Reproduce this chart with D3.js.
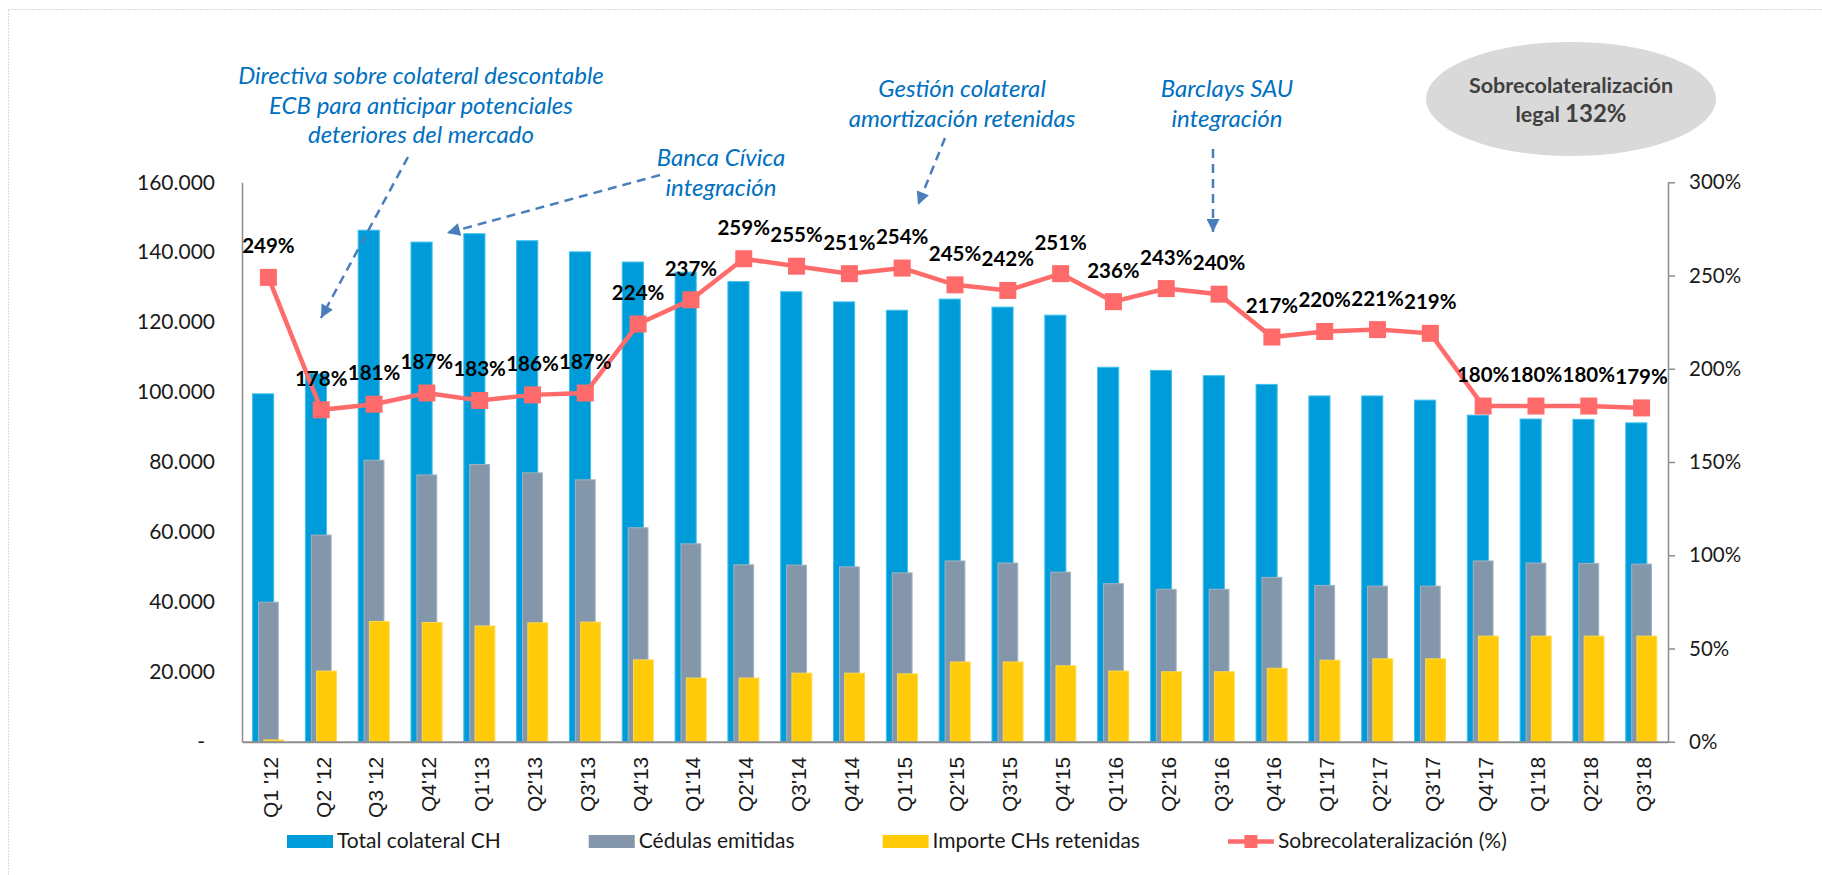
<!DOCTYPE html>
<html lang="es">
<head>
<meta charset="UTF-8">
<title>Sobrecolateralización</title>
<script src="https://d3js.org/d3.v7.min.js"></script>
<style>
  body { margin: 0; background: #fff; }
  svg text { font-family: Lato, "Open Sans", sans-serif; }
</style>
</head>
<body>
<svg id="chart" width="1822" height="875"></svg>
<script>
// data
const quarters = ["Q1 '12", "Q2 '12", "Q3 '12", "Q4'12", "Q1'13", "Q2'13", "Q3'13", "Q4'13",
    "Q1'14", "Q2'14", "Q3'14", "Q4'14", "Q1'15", "Q2'15", "Q3'15", "Q4'15", "Q1'16", "Q2'16",
    "Q3'16", "Q4'16", "Q1'17", "Q2'17", "Q3'17", "Q4'17", "Q1'18", "Q2'18", "Q3'18"];
const totalColateral = [99500, 105200, 146300, 142900, 145300, 143300, 140100, 137200, 134300,
    131600, 128700, 125800, 123400, 126600, 124300, 122000, 107100, 106200, 104700, 102200,
    98900, 98900, 97700, 93400, 92300, 92200, 91200];
const cedulasEmitidas = [39900, 59100, 80500, 76300, 79300, 76900, 74900, 61200, 56600, 50600,
    50500, 50000, 48300, 51700, 51100, 48500, 45200, 43600, 43600, 47000, 44700, 44500, 44500,
    51700, 51100, 51000, 50800];
const importeRetenidas = [500, 20200, 34400, 34100, 33100, 34000, 34200, 23400, 18200, 18200,
    19600, 19600, 19400, 22800, 22800, 21700, 20200, 20000, 20000, 21000, 23300, 23700, 23700,
    30200, 30200, 30200, 30200];
const sobrecolateral = [249, 178, 181, 187, 183, 186, 187, 224, 237, 259, 255, 251, 254, 245, 242,
    251, 236, 243, 240, 217, 220, 221, 219, 180, 180, 180, 179];

const leftTicks = [0, 20000, 40000, 60000, 80000, 100000, 120000, 140000, 160000];
const rightTicks = [0, 50, 100, 150, 200, 250, 300];

const seriesNames = ["Total colateral CH", "Cédulas emitidas", "Importe CHs retenidas", "Sobrecolateralización (%)"];

const blue = "#009cda", gray = "#8497aa", yellow = "#ffca08", red = "#ff6b6b", noteBlue = "#0070c0";

const svg = d3.select("#chart");
const plotLeft = 242, plotRight = 1668, plotTop = 182.3, plotBottom = 741.7;

// dotted frame
svg.append("rect")
    .attr("x", 8.5).attr("y", 9.5).attr("width", 1840).attr("height", 900)
    .attr("fill", "none").attr("stroke", "#a9b5c5").attr("stroke-dasharray", "1,2");

const x = d3.scaleBand().domain(quarters).range([plotLeft, plotRight]).padding(0);
const y = d3.scaleLinear().domain([0, 160000]).range([plotBottom, plotTop]);
const y2 = d3.scaleLinear().domain([0, 300]).range([plotBottom, plotTop]);
const bw = x.bandwidth();

// bars: three overlapped series, shifted a little inside each band
function drawBars(values, fill, stroke, shift, width) {
    svg.append("g").selectAll("rect")
        .data(values)
        .join("rect")
        .attr("x", (d, i) => x(quarters[i]) + bw / 2 + shift * bw - width * bw / 2)
        .attr("y", d => y(d))
        .attr("width", width * bw)
        .attr("height", d => plotBottom - y(d))
        .attr("fill", fill)
        .attr("stroke", stroke)
        .attr("stroke-width", 1);
}
drawBars(totalColateral, blue, "#40c0ee", -0.1, 0.4);
drawBars(cedulasEmitidas, gray, "#a3b2c0", 0.0, 0.375);
drawBars(importeRetenidas, yellow, "#ffd94a", 0.1, 0.375);

// left axis
const gLeft = svg.append("g")
    .attr("transform", `translate(${plotLeft},0)`)
    .call(d3.axisLeft(y).tickValues(leftTicks).tickSize(0).tickPadding(27)
        .tickFormat(d => d === 0 ? "-" : d3.format(",")(d).replace(/,/g, ".")));
gLeft.select(".domain").attr("stroke", "#8c8c8c").attr("stroke-width", 1.5);
gLeft.selectAll("text").attr("font-size", 21).attr("fill", "#1a1a1a")
    .style("font-family", "Lato, sans-serif");
gLeft.selectAll("text").filter(d => d === 0).attr("dx", -10);

// right axis
const gRight = svg.append("g")
    .attr("transform", `translate(${plotRight},0)`)
    .call(d3.axisRight(y2).tickValues(rightTicks).tickSizeInner(7).tickSizeOuter(0).tickPadding(14)
        .tickFormat(d => d + "%"));
gRight.select(".domain").attr("stroke", "#8c8c8c").attr("stroke-width", 1.5);
gRight.selectAll("line").attr("stroke", "#8c8c8c").attr("stroke-width", 1.5);
gRight.selectAll("text").attr("font-size", 20.5).attr("fill", "#1a1a1a")
    .style("font-family", "Lato, sans-serif");

// bottom axis
const gBottom = svg.append("g")
    .attr("transform", `translate(0,${plotBottom})`)
    .call(d3.axisBottom(x).tickSize(0).tickSizeOuter(0));
gBottom.select(".domain").attr("stroke", "#8c8c8c").attr("stroke-width", 2);
gBottom.selectAll("text")
    .attr("transform", "rotate(-90)")
    .attr("text-anchor", "end")
    .attr("x", -15).attr("y", 0).attr("dy", "0.45em")
    .attr("font-size", 21).attr("fill", "#1a1a1a")
    .style("font-family", "'Liberation Sans', Arial, sans-serif");

// line series
const cx = (d, i) => x(quarters[i]) + bw / 2;
svg.append("path")
    .datum(sobrecolateral)
    .attr("fill", "none").attr("stroke", red).attr("stroke-width", 4.5)
    .attr("d", d3.line().x(cx).y(d => y2(d)));
svg.append("g").selectAll("rect")
    .data(sobrecolateral)
    .join("rect")
    .attr("x", (d, i) => cx(d, i) - 8.5)
    .attr("y", d => y2(d) - 8.5)
    .attr("width", 17).attr("height", 17)
    .attr("fill", red);
svg.append("g").selectAll("text")
    .data(sobrecolateral)
    .join("text")
    .attr("x", cx)
    .attr("y", d => y2(d) - 24)
    .attr("text-anchor", "middle")
    .attr("font-size", 20.5).attr("font-weight", "bold").attr("fill", "#000")
    .text(d => d + "%");

// annotations
svg.append("defs").append("marker")
    .attr("id", "arrow").attr("viewBox", "0 0 10 10")
    .attr("refX", 10).attr("refY", 5)
    .attr("markerUnits", "userSpaceOnUse")
    .attr("markerWidth", 15).attr("markerHeight", 13)
    .attr("orient", "auto")
    .append("path").attr("d", "M0,0 L10,5 L0,10 Z").attr("fill", "#4a7ebb");

const notes = [
    { lines: ["Directiva sobre colateral descontable", "ECB para anticipar potenciales", "deteriores del mercado"], cx: 421, y0: 84, from: [408, 157], to: [321, 318] },
    { lines: ["Banca Cívica", "integración"], cx: 721, y0: 166, from: [660, 175], to: [447, 233] },
    { lines: ["Gestión colateral", "amortización retenidas"], cx: 962, y0: 97, from: [945, 138], to: [918, 205] },
    { lines: ["Barclays SAU", "integración"], cx: 1227, y0: 97, from: [1213, 149], to: [1213, 232] }
];
notes.forEach(n => {
    const t = svg.append("text")
        .attr("text-anchor", "middle")
        .attr("font-size", 24).attr("font-style", "italic").attr("fill", noteBlue);
    n.lines.forEach((l, i) => t.append("tspan").attr("x", n.cx).attr("y", n.y0 + i * 29.5).text(l));
    svg.append("line")
        .attr("x1", n.from[0]).attr("y1", n.from[1])
        .attr("x2", n.to[0]).attr("y2", n.to[1])
        .attr("stroke", "#4a7ebb").attr("stroke-width", 2.5)
        .attr("stroke-dasharray", "9,6")
        .attr("marker-end", "url(#arrow)");
});

// legal over-collateralisation bubble
svg.append("ellipse")
    .attr("cx", 1571).attr("cy", 99).attr("rx", 145).attr("ry", 57)
    .attr("fill", "#d9d9d9");
svg.append("text")
    .attr("x", 1571).attr("y", 93).attr("text-anchor", "middle")
    .attr("font-size", 21.5).attr("font-weight", "bold").attr("fill", "#404040")
    .text("Sobrecolateralización");
const legal = svg.append("text")
    .attr("x", 1571).attr("y", 122).attr("text-anchor", "middle")
    .attr("font-weight", "bold").attr("fill", "#404040");
legal.append("tspan").attr("font-size", 21.5).text("legal ");
legal.append("tspan").attr("font-size", 24).text("132%");

// legend
const legend = svg.append("g");
let lx = 287;
const legendColors = [blue, gray, yellow, red];
seriesNames.forEach((name, i) => {
    if (i < 3) {
        legend.append("rect").attr("x", lx).attr("y", 835).attr("width", 46).attr("height", 13)
            .attr("fill", legendColors[i]);
    } else {
        legend.append("line").attr("x1", lx).attr("x2", lx + 46).attr("y1", 841.5).attr("y2", 841.5)
            .attr("stroke", red).attr("stroke-width", 4.5);
        legend.append("rect").attr("x", lx + 16.5).attr("y", 835).attr("width", 13).attr("height", 13)
            .attr("fill", red);
    }
    const t = legend.append("text").attr("x", lx + 50).attr("y", 848)
        .attr("font-size", 21).attr("fill", "#1a1a1a").text(name);
    lx += 50 + t.node().getComputedTextLength() + 88;
});
</script>
</body>
</html>
